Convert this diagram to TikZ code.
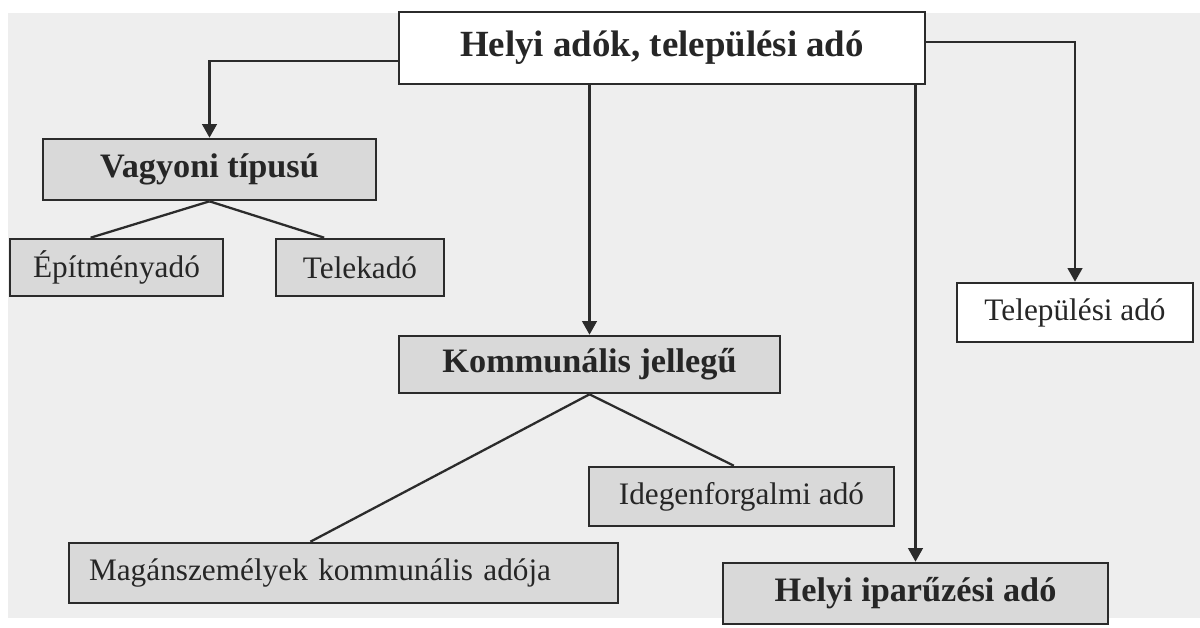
\documentclass[tikz,border=0pt]{standalone}
\usepackage{fontspec}
\setmainfont{Liberation Serif}
\usepackage{xcolor}
\usepackage{tikz}
\usetikzlibrary{arrows.meta, calc}

\definecolor{linec}{HTML}{2B2B2B}
\definecolor{boxgray}{HTML}{D9D9D9}
\definecolor{bggray}{HTML}{EEEEEE}

\begin{document}
\begin{tikzpicture}[x=0.02cm, y=-0.02cm,
    taxbox/.style={rectangle, draw=linec, line width=1.5pt, inner sep=0pt, text=black!85},
    whitebox/.style={taxbox, fill=white},
    graybox/.style={taxbox, fill=boxgray},
    headfont/.style={font=\fontsize{19.5}{23}\selectfont\bfseries},
    leaffont/.style={font=\fontsize{17.8}{21}\selectfont},
    arr/.style={draw=linec, line width=1.3pt, -{Triangle[length=0.27cm, width=0.29cm]}},
    link/.style={draw=linec, line width=1.3pt}]
    \useasboundingbox (0,0) rectangle (1200,627);
    \fill[bggray] (8,13) rectangle (1200,618);

    \node (top) [whitebox, minimum width=10.52cm, minimum height=1.44cm, font=\fontsize{21}{25}\selectfont\bfseries] at (662,48) {Helyi adók, települési adó};
    \node (vag) [graybox, headfont, minimum width=6.66cm, minimum height=1.22cm] at (209.5,169.5) {Vagyoni típusú};
    \node (epit) [graybox, leaffont, minimum width=4.26cm, minimum height=1.14cm] at (116.5,267.5) {Építményadó};
    \node (telek) [graybox, leaffont, minimum width=3.36cm, minimum height=1.14cm] at (360,267.5) {Telekadó};
    \node (telep) [whitebox, leaffont, minimum width=4.72cm, minimum height=1.18cm] at (1075,312.5) {Települési adó};
    \node (komm) [graybox, headfont, minimum width=7.62cm, minimum height=1.14cm] at (589.5,364.5) {Kommunális jellegű};
    \node (idegen) [graybox, leaffont, minimum width=6.10cm, minimum height=1.18cm] at (741.5,496.5) {Idegenforgalmi adó};
    \node (magan) [graybox, leaffont, minimum width=10.98cm, minimum height=1.20cm, text width=10.18cm, align=left] at (343.5,573) {Magánszemélyek kommunális adója};
    \node (ipar) [graybox, headfont, minimum width=7.70cm, minimum height=1.22cm] at (915.5,593.5) {Helyi iparűzési adó};

    \draw[arr] ($(top.west)+(0,13)$) -| (vag.north);
    \draw[arr] ($(top.east)+(0,-6)$) -| (telep.north);
    \draw[arr] (top.south -| komm.north) -- (komm.north);
    \draw[arr] (top.south -| ipar.north) -- (ipar.north);

    \draw[link] (vag.south) -- ($(epit.north west)!0.38!(epit.north east)$);
    \draw[link] (vag.south) -- ($(telek.north west)!0.29!(telek.north east)$);
    \draw[link] (komm.south) -- ($(magan.north west)!0.44!(magan.north east)$);
    \draw[link] (komm.south) -- ($(idegen.north west)!0.475!(idegen.north east)$);
\end{tikzpicture}
\end{document}
